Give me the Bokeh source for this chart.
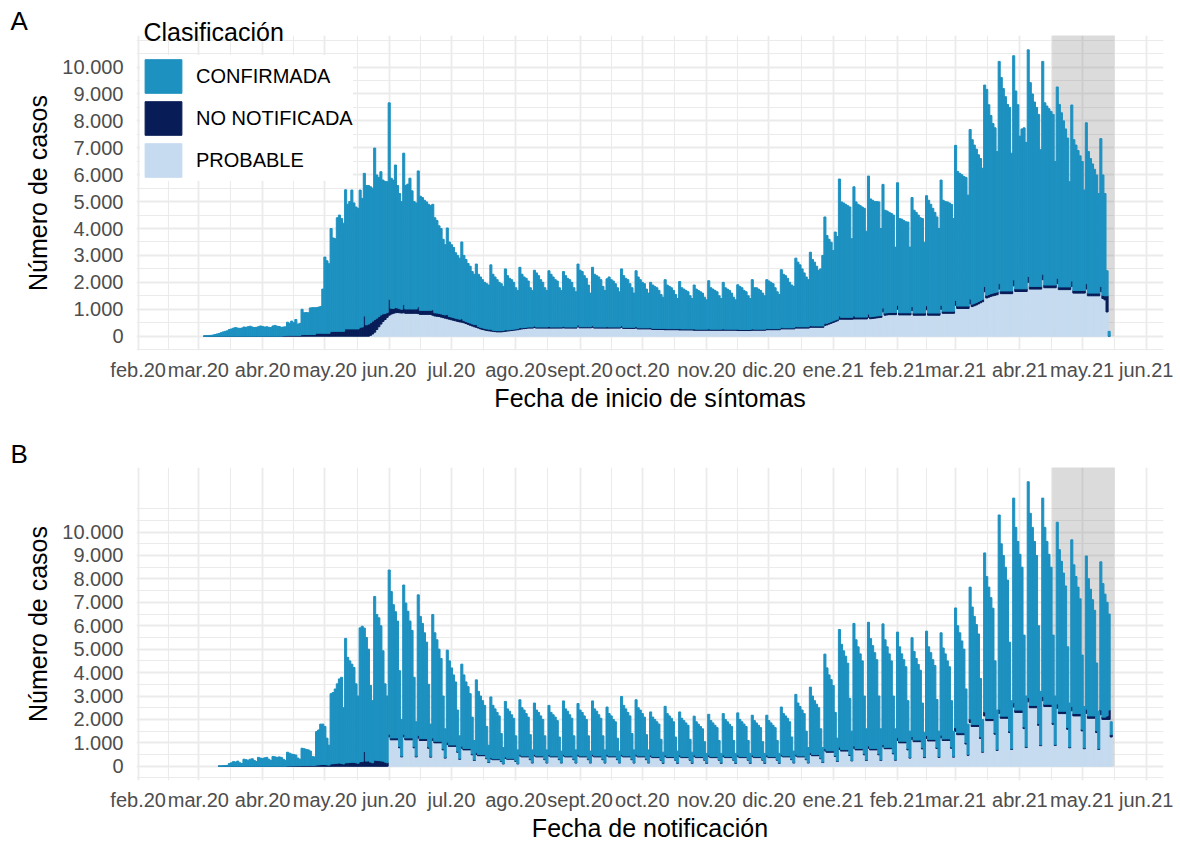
import numpy as np
import pandas as pd
from bokeh.plotting import figure
from bokeh.models import (ColumnDataSource, FixedTicker, Legend, LegendItem, Range1d, Title)
from bokeh.layouts import column
from bokeh.embed import file_html
from bokeh.resources import INLINE

# ---------------- data ----------------
origin = "2020-02-01"          # first month gridline
series_start = "2020-03-02"    # first day of the daily series (a Monday)
shade_start = "2021-04-17"
shade_end = "2021-05-16"

month_dates = ["2020-02-01", "2020-03-01", "2020-04-01", "2020-05-01", "2020-06-01",
               "2020-07-01", "2020-08-01", "2020-09-01", "2020-10-01", "2020-11-01",
               "2020-12-01", "2021-01-01", "2021-02-01", "2021-03-01", "2021-04-01",
               "2021-05-01", "2021-06-01"]
month_labels = ["feb.20", "mar.20", "abr.20", "may.20", "jun.20", "jul.20", "ago.20",
                "sept.20", "oct.20", "nov.20", "dic.20", "ene.21", "feb.21", "mar.21",
                "abr.21", "may.21", "jun.21"]
y_ticks = [0, 1000, 2000, 3000, 4000, 5000, 6000, 7000, 8000, 9000, 10000]
y_labels = ["0", "1.000", "2.000", "3.000", "4.000", "5.000", "6.000", "7.000",
            "8.000", "9.000", "10.000"]
y_minor = [-500, 500, 1500, 2500, 3500, 4500, 5500, 6500, 7500, 8500, 9500, 10500, 11000]
legend_title = "Clasificación"
series_names = ["CONFIRMADA", "NO NOTIFICADA", "PROBABLE"]

# Panel A : fecha de inicio de sintomas (one row = one week, Monday first)
conf_a = [
    0, 0, 5, 10, 20, 30, 40,
    60, 80, 100, 130, 160, 180, 200,
    250, 270, 300, 320, 300, 290, 300,
    340, 330, 350, 370, 340, 320, 330,
    350, 380, 360, 340, 350, 330, 320,
    380, 400, 370, 360, 330, 330, 330,
    490, 450, 530, 470, 590, 420, 440,
    940, 810, 820, 810, 990, 1000, 1000,
    950, 970, 990, 1640, 2830, 2690, 2580,
    3820, 3470, 3440, 4220, 4320, 4190, 4020,
    5170, 4630, 4730, 5160, 4680, 4530, 4480,
    5100, 4780, 5300, 5180, 5150, 5050, 4940,
    6370, 5320, 5170, 5320, 4970, 4910, 4860,
    7300, 4830, 4770, 5290, 4550, 4280, 4000,
    5630, 4590, 4640, 4860, 4390, 3990, 3940,
    5050, 4240, 4190, 4090, 4030, 3940, 3890,
    3920, 3530, 3440, 3250, 3170, 2790, 2610,
    3210, 2770, 2690, 2610, 2430, 2350, 2270,
    2850, 2420, 2300, 2180, 2110, 1940, 1870,
    2250, 1940, 1870, 1790, 1710, 1680, 1640,
    2390, 2075, 1985, 1895, 1795, 1745, 1635,
    2260, 2020, 1910, 1850, 1740, 1530, 1420,
    2240, 1990, 1880, 1820, 1710, 1460, 1360,
    2070, 2010, 1910, 1760, 1660, 1460, 1360,
    2070, 1960, 1860, 1760, 1710, 1460, 1360,
    2030, 1910, 1810, 1760, 1660, 1460, 1310,
    2260, 2100, 2050, 1900, 1800, 1550, 1250,
    2170, 1960, 1910, 1860, 1760, 1510, 1360,
    1780, 1860, 1760, 1710, 1610, 1460, 1310,
    2110, 1920, 1820, 1770, 1620, 1470, 1270,
    2070, 1890, 1790, 1690, 1640, 1440, 1290,
    1680, 1610, 1560, 1510, 1410, 1260, 1160,
    1810, 1620, 1570, 1520, 1420, 1270, 1120,
    1750, 1530, 1480, 1430, 1380, 1230, 1130,
    1630, 1490, 1440, 1390, 1340, 1190, 1090,
    1790, 1540, 1490, 1440, 1390, 1240, 1140,
    1730, 1540, 1490, 1440, 1340, 1190, 1090,
    1650, 1600, 1550, 1450, 1400, 1250, 1150,
    1830, 1540, 1540, 1490, 1440, 1340, 1240,
    1810, 1770, 1720, 1670, 1520, 1370, 1270,
    2140, 1990, 1940, 1840, 1690, 1590, 1540,
    2540, 2400, 2300, 2150, 2000, 1850, 1750,
    2720, 2470, 2370, 2220, 2070, 2120, 2620,
    3950, 3260, 3090, 2950, 2610, 3270, 3070,
    5090, 4290, 4250, 4200, 4150, 4100, 2920,
    4790, 4280, 4190, 4140, 4090, 4040, 3190,
    5130, 4380, 4320, 4260, 4250, 4230, 3230,
    4590, 3820, 3780, 3720, 3680, 3620, 2430,
    4550, 3500, 3480, 3430, 3380, 3370, 2440,
    4050, 3820, 3740, 3640, 3540, 3510, 2630,
    4090, 4190, 4040, 3890, 3740, 3570, 3140,
    4650, 4120, 4070, 4060, 4020, 3970, 3440,
    5760, 5000, 4930, 4880, 4810, 4780, 4120,
    6300, 6110, 5880, 5700, 5450, 5270, 4870,
    7480, 7650, 7050, 6620, 6300, 6120, 5220,
    8260, 7930, 7520, 7220, 6930, 6820, 5120,
    8330, 7350, 6840, 5670, 5940, 5980, 5440,
    8420, 7570, 7150, 6850, 6650, 6390, 5080,
    7910, 6770, 6650, 6550, 6450, 6340, 4590,
    7110, 6780, 6470, 6170, 5870, 5530, 3910,
    6540, 5600, 5400, 5200, 5000, 4790, 3730,
    5980, 5260, 5000, 4800, 4600, 4390, 3700,
    5490, 4470, 3800, 930, 180, 0, 0,
]
nn_a = [
    0, 0, 0, 0, 0, 0, 0,
    0, 0, 0, 0, 0, 0, 0,
    0, 0, 0, 0, 0, 0, 0,
    0, 0, 0, 0, 0, 0, 0,
    0, 0, 0, 0, 0, 0, 0,
    0, 0, 0, 0, 0, 10, 20,
    30, 30, 30, 30, 30, 30, 30,
    60, 60, 60, 60, 60, 60, 60,
    110, 110, 110, 110, 110, 110, 110,
    180, 180, 180, 180, 180, 180, 180,
    270, 270, 270, 270, 270, 270, 270,
    330, 340, 750, 420, 450, 470, 480,
    470, 420, 380, 340, 280, 220, 180,
    590, 220, 180, 200, 170, 150, 140,
    300, 160, 160, 160, 160, 160, 160,
    250, 150, 150, 150, 150, 150, 150,
    200, 120, 120, 120, 120, 120, 120,
    160, 100, 100, 100, 100, 100, 100,
    130, 80, 80, 80, 80, 80, 80,
    100, 60, 60, 60, 60, 60, 60,
    70, 45, 45, 45, 45, 45, 45,
    60, 40, 40, 40, 40, 40, 40,
    60, 40, 40, 40, 40, 40, 40,
    60, 40, 40, 40, 40, 40, 40,
    60, 40, 40, 40, 40, 40, 40,
    60, 40, 40, 40, 40, 40, 40,
    70, 40, 40, 40, 40, 40, 40,
    60, 40, 40, 40, 40, 40, 40,
    50, 40, 40, 40, 40, 40, 40,
    60, 40, 40, 40, 40, 40, 40,
    60, 40, 40, 40, 40, 40, 40,
    50, 40, 40, 40, 40, 40, 40,
    50, 40, 40, 40, 40, 40, 40,
    50, 40, 40, 40, 40, 40, 40,
    50, 40, 40, 40, 40, 40, 40,
    50, 40, 40, 40, 40, 40, 40,
    50, 40, 40, 40, 40, 40, 40,
    50, 40, 40, 40, 40, 40, 40,
    50, 40, 40, 40, 40, 40, 40,
    50, 40, 40, 40, 40, 40, 40,
    60, 40, 40, 40, 40, 40, 40,
    60, 50, 50, 50, 50, 50, 50,
    70, 50, 50, 50, 50, 50, 50,
    80, 60, 60, 60, 60, 60, 60,
    120, 70, 70, 70, 70, 70, 70,
    120, 70, 70, 70, 70, 70, 70,
    120, 70, 70, 70, 70, 70, 70,
    150, 80, 80, 80, 80, 80, 80,
    150, 80, 80, 80, 80, 80, 80,
    150, 80, 80, 80, 80, 80, 80,
    150, 80, 80, 80, 80, 80, 80,
    150, 80, 80, 80, 80, 80, 80,
    180, 90, 90, 90, 90, 90, 90,
    180, 90, 90, 90, 90, 90, 90,
    200, 100, 100, 100, 100, 100, 100,
    200, 100, 100, 100, 100, 100, 100,
    220, 100, 100, 100, 100, 100, 100,
    220, 100, 100, 100, 100, 100, 100,
    200, 100, 100, 100, 100, 100, 100,
    200, 100, 100, 100, 100, 100, 100,
    200, 100, 100, 100, 100, 100, 100,
    200, 100, 100, 100, 100, 100, 100,
    200, 120, 150, 600, 0, 0, 0,
]
prob_a = [
    0, 0, 0, 0, 0, 0, 0,
    0, 0, 0, 0, 0, 0, 0,
    0, 0, 0, 0, 0, 0, 0,
    0, 0, 0, 0, 0, 0, 0,
    0, 0, 0, 0, 0, 0, 0,
    0, 0, 0, 0, 0, 0, 0,
    0, 0, 0, 0, 0, 0, 0,
    0, 0, 0, 0, 0, 0, 0,
    0, 0, 0, 0, 0, 0, 0,
    0, 0, 0, 0, 0, 0, 0,
    0, 0, 0, 0, 0, 0, 0,
    0, 0, 0, 0, 0, 30, 80,
    150, 250, 350, 450, 550, 620, 700,
    780, 820, 850, 870, 880, 870, 860,
    870, 850, 850, 850, 850, 850, 850,
    840, 810, 810, 810, 810, 810, 810,
    780, 750, 740, 730, 710, 690, 670,
    650, 630, 610, 590, 570, 550, 530,
    520, 500, 470, 440, 410, 380, 350,
    330, 300, 270, 250, 230, 210, 200,
    190, 180, 170, 160, 160, 160, 170,
    180, 190, 200, 210, 220, 230, 240,
    260, 270, 280, 290, 300, 300, 300,
    320, 300, 300, 300, 300, 300, 300,
    300, 300, 300, 300, 300, 300, 300,
    310, 300, 300, 300, 300, 300, 300,
    350, 310, 310, 310, 310, 310, 310,
    330, 300, 300, 300, 300, 300, 300,
    300, 300, 300, 300, 300, 300, 300,
    330, 290, 290, 290, 290, 290, 290,
    300, 270, 270, 270, 270, 270, 270,
    270, 250, 250, 250, 250, 250, 250,
    240, 240, 240, 240, 240, 240, 240,
    230, 230, 230, 230, 230, 230, 230,
    220, 220, 220, 220, 220, 220, 220,
    220, 220, 220, 220, 220, 220, 220,
    220, 220, 220, 220, 220, 220, 220,
    210, 210, 210, 210, 210, 210, 210,
    220, 220, 220, 220, 220, 220, 220,
    240, 240, 240, 240, 240, 240, 240,
    270, 270, 270, 270, 270, 270, 270,
    300, 300, 300, 300, 300, 300, 300,
    330, 330, 330, 330, 330, 330, 330,
    400, 420, 450, 480, 510, 540, 570,
    630, 630, 630, 630, 630, 630, 630,
    640, 640, 640, 640, 640, 640, 640,
    700, 650, 660, 670, 680, 690, 700,
    900, 780, 790, 800, 800, 800, 800,
    1000, 790, 790, 790, 790, 790, 790,
    950, 780, 780, 780, 780, 780, 780,
    980, 780, 780, 780, 780, 780, 780,
    1000, 850, 850, 850, 850, 850, 850,
    1150, 1030, 1030, 1030, 1030, 1030, 1030,
    1200, 1100, 1130, 1160, 1200, 1240, 1280,
    1650, 1420, 1450, 1480, 1500, 1520, 1540,
    1750, 1580, 1580, 1580, 1580, 1580, 1580,
    1870, 1660, 1660, 1660, 1660, 1660, 1660,
    2000, 1750, 1750, 1750, 1750, 1750, 1750,
    2100, 1800, 1800, 1800, 1800, 1800, 1800,
    1950, 1730, 1730, 1730, 1730, 1730, 1730,
    1850, 1600, 1600, 1600, 1600, 1600, 1600,
    1750, 1500, 1500, 1500, 1500, 1500, 1500,
    1650, 1400, 1350, 900, 0, 0, 0,
]

# Panel B : fecha de notificacion
conf_b = [
    0, 0, 0, 0, 0, 0, 0,
    0, 0, 5, 10, 20, 30, 40,
    120, 150, 200, 180, 220, 150, 120,
    300, 280, 260, 300, 320, 250, 200,
    380, 350, 330, 360, 380, 300, 250,
    420, 400, 380, 400, 380, 300, 250,
    590, 550, 505, 485, 460, 330, 280,
    740, 720, 685, 665, 610, 390, 370,
    1430, 1490, 1730, 1720, 1620, 1140, 850,
    3000, 3040, 3180, 3390, 3590, 3680, 2400,
    5310, 4500, 4340, 4190, 4050, 3370, 2870,
    5710, 5780, 5270, 5280, 4770, 3270, 2650,
    6990, 6230, 6100, 5770, 4710, 3340, 2850,
    7010, 6250, 5690, 5390, 4990, 3240, 1570,
    6370, 5760, 5410, 4990, 4590, 2960, 1470,
    6000, 5220, 4920, 4520, 4120, 2680, 1380,
    5270, 4630, 4330, 3930, 3530, 2250, 1220,
    3930, 3590, 3290, 2990, 2690, 1760, 980,
    3500, 3140, 2840, 2640, 2340, 1570, 830,
    3110, 2700, 2500, 2300, 2100, 1350, 720,
    2580, 2280, 2130, 1980, 1830, 1170, 680,
    2370, 2110, 2010, 1860, 1710, 1060, 580,
    2330, 2060, 1960, 1810, 1660, 1040, 540,
    2190, 1960, 1860, 1710, 1560, 990, 540,
    2090, 1860, 1760, 1660, 1510, 940, 490,
    2280, 2010, 1910, 1760, 1610, 990, 540,
    2170, 1960, 1860, 1710, 1560, 990, 490,
    2280, 2010, 1910, 1760, 1610, 990, 540,
    2020, 1810, 1710, 1560, 1460, 890, 490,
    2470, 2160, 2010, 1860, 1710, 1090, 540,
    2330, 2060, 1960, 1810, 1660, 1040, 540,
    1840, 1690, 1590, 1490, 1390, 860, 450,
    2080, 1840, 1740, 1640, 1490, 960, 500,
    1840, 1640, 1540, 1440, 1340, 860, 450,
    1660, 1490, 1390, 1290, 1190, 760, 400,
    1740, 1540, 1440, 1340, 1240, 810, 400,
    1770, 1590, 1490, 1390, 1290, 810, 400,
    1800, 1590, 1490, 1390, 1290, 810, 400,
    1700, 1540, 1440, 1340, 1240, 760, 400,
    1700, 1540, 1440, 1340, 1240, 810, 400,
    2020, 1810, 1710, 1610, 1460, 940, 490,
    2560, 2260, 2110, 1960, 1810, 1190, 640,
    2800, 2500, 2300, 2150, 2000, 1250, 620,
    4040, 3540, 3240, 3040, 2790, 1840, 970,
    5020, 4500, 4220, 3990, 3690, 2400, 1250,
    5230, 4640, 4340, 4040, 3740, 2470, 1330,
    5280, 4690, 4390, 4090, 3790, 2470, 1330,
    5150, 4590, 4290, 3990, 3690, 2430, 1320,
    4510, 4030, 3730, 3480, 3180, 2050, 1120,
    4220, 3780, 3480, 3230, 2980, 1910, 1050,
    4460, 3950, 3700, 3400, 3150, 2040, 1090,
    4370, 3880, 3630, 3330, 3080, 1980, 1080,
    5120, 4570, 4270, 3920, 3570, 2290, 1300,
    5630, 5020, 4620, 4270, 3870, 2500, 1370,
    6790, 6060, 5610, 5160, 4710, 3070, 1690,
    8300, 7360, 6860, 6360, 5810, 3800, 2050,
    8740, 7800, 7200, 6650, 6100, 3920, 2170,
    9220, 8200, 7600, 7000, 6400, 4180, 2290,
    8470, 7550, 6950, 6400, 5850, 3740, 2080,
    7760, 6900, 6400, 5900, 5350, 3450, 1880,
    7120, 6350, 5850, 5400, 4900, 3170, 1770,
    6540, 5860, 5410, 4960, 4510, 2900, 1600,
    6330, 5700, 5250, 4850, 4100, 550, 0,
]
nn_b = [
    0, 0, 0, 0, 0, 0, 0,
    0, 0, 0, 0, 0, 0, 0,
    0, 0, 0, 0, 0, 0, 0,
    0, 0, 0, 0, 0, 0, 0,
    0, 0, 0, 0, 0, 0, 0,
    0, 0, 0, 0, 0, 0, 0,
    10, 10, 15, 15, 20, 20, 20,
    30, 30, 35, 35, 40, 30, 30,
    50, 60, 70, 80, 80, 60, 50,
    100, 110, 120, 130, 140, 120, 100,
    150, 150, 160, 170, 170, 150, 130,
    200, 200, 630, 220, 230, 180, 150,
    260, 250, 240, 230, 220, 180, 150,
    120, 80, 80, 80, 80, 50, 30,
    120, 80, 80, 80, 80, 50, 30,
    120, 80, 80, 80, 80, 50, 30,
    110, 70, 70, 70, 70, 50, 30,
    100, 60, 60, 60, 60, 40, 20,
    90, 60, 60, 60, 60, 40, 20,
    80, 50, 50, 50, 50, 30, 20,
    70, 40, 40, 40, 40, 30, 20,
    70, 40, 40, 40, 40, 30, 20,
    70, 40, 40, 40, 40, 30, 20,
    70, 40, 40, 40, 40, 30, 20,
    70, 40, 40, 40, 40, 30, 20,
    70, 40, 40, 40, 40, 30, 20,
    70, 40, 40, 40, 40, 30, 20,
    70, 40, 40, 40, 40, 30, 20,
    70, 40, 40, 40, 40, 30, 20,
    70, 40, 40, 40, 40, 30, 20,
    70, 40, 40, 40, 40, 30, 20,
    70, 40, 40, 40, 40, 30, 20,
    70, 40, 40, 40, 40, 30, 20,
    70, 40, 40, 40, 40, 30, 20,
    70, 40, 40, 40, 40, 30, 20,
    70, 40, 40, 40, 40, 30, 20,
    70, 40, 40, 40, 40, 30, 20,
    70, 40, 40, 40, 40, 30, 20,
    70, 40, 40, 40, 40, 30, 20,
    70, 40, 40, 40, 40, 30, 20,
    70, 40, 40, 40, 40, 30, 20,
    70, 40, 40, 40, 40, 30, 20,
    80, 50, 50, 50, 50, 30, 20,
    90, 60, 60, 60, 60, 40, 20,
    100, 60, 60, 60, 60, 40, 20,
    100, 60, 60, 60, 60, 40, 20,
    100, 60, 60, 60, 60, 40, 20,
    100, 60, 60, 60, 60, 40, 20,
    120, 70, 70, 70, 70, 50, 30,
    120, 70, 70, 70, 70, 50, 30,
    120, 70, 70, 70, 70, 50, 30,
    120, 70, 70, 70, 70, 50, 30,
    150, 80, 80, 80, 80, 60, 30,
    150, 80, 80, 80, 80, 60, 30,
    170, 90, 90, 90, 90, 60, 30,
    170, 90, 90, 90, 90, 60, 30,
    180, 100, 100, 100, 100, 70, 30,
    180, 100, 100, 100, 100, 70, 30,
    180, 100, 100, 100, 100, 70, 30,
    180, 100, 100, 100, 100, 70, 30,
    180, 100, 100, 100, 100, 70, 30,
    180, 100, 100, 100, 100, 70, 30,
    200, 100, 100, 150, 400, 100, 0,
]
prob_b = [
    0, 0, 0, 0, 0, 0, 0,
    0, 0, 0, 0, 0, 0, 0,
    0, 0, 0, 0, 0, 0, 0,
    0, 0, 0, 0, 0, 0, 0,
    0, 0, 0, 0, 0, 0, 0,
    0, 0, 0, 0, 0, 0, 0,
    0, 0, 0, 0, 0, 0, 0,
    0, 0, 0, 0, 0, 0, 0,
    0, 0, 0, 0, 0, 0, 0,
    0, 0, 0, 0, 0, 0, 0,
    0, 0, 0, 0, 0, 0, 0,
    0, 0, 0, 0, 0, 0, 0,
    0, 0, 0, 0, 0, 0, 0,
    1250, 1130, 1130, 1130, 1130, 790, 400,
    1250, 1130, 1130, 1130, 1130, 790, 400,
    1200, 1100, 1100, 1100, 1100, 770, 390,
    1100, 1000, 1000, 1000, 1000, 700, 350,
    930, 850, 850, 850, 850, 600, 300,
    770, 700, 700, 700, 700, 490, 250,
    500, 450, 450, 450, 450, 320, 160,
    310, 280, 280, 280, 280, 200, 100,
    330, 300, 300, 300, 300, 210, 100,
    440, 400, 400, 400, 400, 280, 140,
    440, 400, 400, 400, 400, 280, 140,
    440, 400, 400, 400, 400, 280, 140,
    440, 400, 400, 400, 400, 280, 140,
    440, 400, 400, 400, 400, 280, 140,
    440, 400, 400, 400, 400, 280, 140,
    440, 400, 400, 400, 400, 280, 140,
    440, 400, 400, 400, 400, 280, 140,
    440, 400, 400, 400, 400, 280, 140,
    410, 370, 370, 370, 370, 260, 130,
    410, 370, 370, 370, 370, 260, 130,
    410, 370, 370, 370, 370, 260, 130,
    410, 370, 370, 370, 370, 260, 130,
    410, 370, 370, 370, 370, 260, 130,
    410, 370, 370, 370, 370, 260, 130,
    410, 370, 370, 370, 370, 260, 130,
    410, 370, 370, 370, 370, 260, 130,
    410, 370, 370, 370, 370, 260, 130,
    440, 400, 400, 400, 400, 280, 140,
    440, 400, 400, 400, 400, 280, 140,
    500, 450, 450, 450, 450, 320, 160,
    660, 600, 600, 600, 600, 420, 210,
    720, 650, 650, 650, 650, 460, 230,
    770, 700, 700, 700, 700, 490, 250,
    770, 700, 700, 700, 700, 490, 250,
    830, 750, 750, 750, 750, 530, 260,
    1100, 1000, 1000, 1000, 1000, 700, 350,
    1150, 1050, 1050, 1050, 1050, 740, 370,
    1190, 1080, 1080, 1080, 1080, 760, 380,
    1210, 1100, 1100, 1100, 1100, 770, 390,
    1490, 1350, 1350, 1350, 1350, 950, 470,
    1870, 1700, 1700, 1700, 1700, 1190, 600,
    2150, 1950, 1950, 1950, 1950, 1370, 680,
    2260, 2050, 2050, 2050, 2050, 1440, 720,
    2530, 2300, 2300, 2300, 2300, 1610, 800,
    2750, 2500, 2500, 2500, 2500, 1750, 880,
    2800, 2550, 2550, 2550, 2550, 1790, 890,
    2480, 2250, 2250, 2250, 2250, 1580, 790,
    2370, 2150, 2150, 2150, 2150, 1510, 750,
    2260, 2050, 2050, 2050, 2050, 1440, 720,
    2200, 2000, 2000, 2000, 2000, 1250, 0,
]

# ---------------- style ----------------
FONT = "Liberation Sans"
TEAL = "#1D91C0"
NAVY = "#081D58"
LIGHT = "#C6DBEF"
GRID = "#EBEBEB"
TICK_TXT = "#4D4D4D"

org = pd.Timestamp(origin)
month_x = [(pd.Timestamp(d) - org).days for d in month_dates]
month_mid = [(a + b) / 2 for a, b in zip(month_x[:-1], month_x[1:])]


def make_title(text, size, offset, standoff):
    return Title(text=text, align="left", offset=offset, standoff=standoff,
                 text_font=FONT, text_font_size=size, text_font_style="normal",
                 text_color="black")


def panel(conf, nn, prob, xlabel, letter, top_border, frame_h, bottom_border,
          with_legend):
    conf = np.asarray(conf, dtype=float)
    nn = np.asarray(nn, dtype=float)
    prob = np.asarray(prob, dtype=float)
    dates = pd.date_range(series_start, periods=len(conf), freq="D")
    x = np.asarray((dates - org).days, dtype=float)
    total = conf + nn + prob
    keep = total > 0          # days without any case are not drawn
    src = ColumnDataSource(dict(x=x[keep], prob=prob[keep], nn=nn[keep], conf=conf[keep]))
    ymax = float(total.max())

    p = figure(frame_width=1027, frame_height=frame_h,
               min_border_left=136, min_border_right=10,
               min_border_top=top_border, min_border_bottom=bottom_border,
               x_range=Range1d(month_x[0] - 0.8, month_x[-1] + 8.2),
               y_range=Range1d(-0.05 * ymax, 1.05 * ymax),
               title=None, output_backend="svg", toolbar_location=None)
    p.outline_line_color = None
    p.background_fill_color = "white"
    p.border_fill_color = "white"

    # titles in the top border: legend heading (closest to the frame) and panel letter
    if with_legend:
        p.add_layout(make_title(legend_title, "25px", 7, -21), "above")
        p.add_layout(make_title(letter, "26px", -126, -19), "above")
    else:
        p.add_layout(make_title(letter, "26px", -126, -3), "above")

    # shaded (incomplete) period
    s0 = (pd.Timestamp(shade_start) - org).days - 0.5
    s1 = (pd.Timestamp(shade_end) - org).days + 0.5
    p.quad(left=[s0], right=[s1], bottom=[0], top=[1.3 * ymax],
           fill_color="#7F7F7F", fill_alpha=0.28, line_color=None)

    rs = p.vbar_stack(["prob", "nn", "conf"], x="x", width=1.0,
                      color=[LIGHT, NAVY, TEAL], line_width=1.0, source=src)

    # axes
    p.xaxis.ticker = FixedTicker(ticks=month_x, minor_ticks=month_mid)
    p.xaxis.major_label_overrides = {m: l for m, l in zip(month_x, month_labels)}
    p.yaxis.ticker = FixedTicker(ticks=y_ticks, minor_ticks=y_minor)
    p.yaxis.major_label_overrides = {t: l for t, l in zip(y_ticks, y_labels)}
    for ax in (p.xaxis[0], p.yaxis[0]):
        ax.axis_line_color = None
        ax.major_tick_line_color = None
        ax.minor_tick_line_color = None
        ax.major_tick_out = 0
        ax.major_tick_in = 0
        ax.minor_tick_out = 0
        ax.minor_tick_in = 0
        ax.major_label_text_font = FONT
        ax.major_label_text_font_size = "20px"
        ax.major_label_text_color = TICK_TXT
        ax.axis_label_text_font = FONT
        ax.axis_label_text_font_size = "25px"
        ax.axis_label_text_font_style = "normal"
        ax.axis_label_text_color = "black"
    p.xaxis.axis_label = xlabel
    p.xaxis.major_label_standoff = 8
    p.xaxis.axis_label_standoff = 0
    p.yaxis.axis_label = "Número de casos"
    p.yaxis.major_label_standoff = 13
    p.yaxis.axis_label_standoff = 7

    for g in (p.xgrid[0], p.ygrid[0]):
        g.grid_line_color = GRID
        g.grid_line_width = 1.8
        g.minor_grid_line_color = GRID
        g.minor_grid_line_width = 1.1

    if with_legend:
        items = [LegendItem(label=series_names[0], renderers=[rs[2]]),
                 LegendItem(label=series_names[1], renderers=[rs[1]]),
                 LegendItem(label=series_names[2], renderers=[rs[0]])]
        leg = Legend(items=items, location=(4, 169),
                     glyph_width=46, glyph_height=42, spacing=0,
                     label_standoff=10, padding=10, margin=0,
                     border_line_color=None, background_fill_color="white",
                     background_fill_alpha=1.0,
                     label_text_font=FONT, label_text_font_size="20px",
                     label_text_color="black")
        p.add_layout(leg)
    return p


pa = panel(conf_a, nn_a, prob_a, "Fecha de inicio de síntomas", "A",
           top_border=35, frame_h=315, bottom_border=62, with_legend=True)
pb = panel(conf_b, nn_b, prob_b, "Fecha de notificación", "B",
           top_border=53, frame_h=313, bottom_border=64, with_legend=False)

layout = column(pa, pb, spacing=0)
open("out.html", "w").write(file_html(layout, INLINE))
